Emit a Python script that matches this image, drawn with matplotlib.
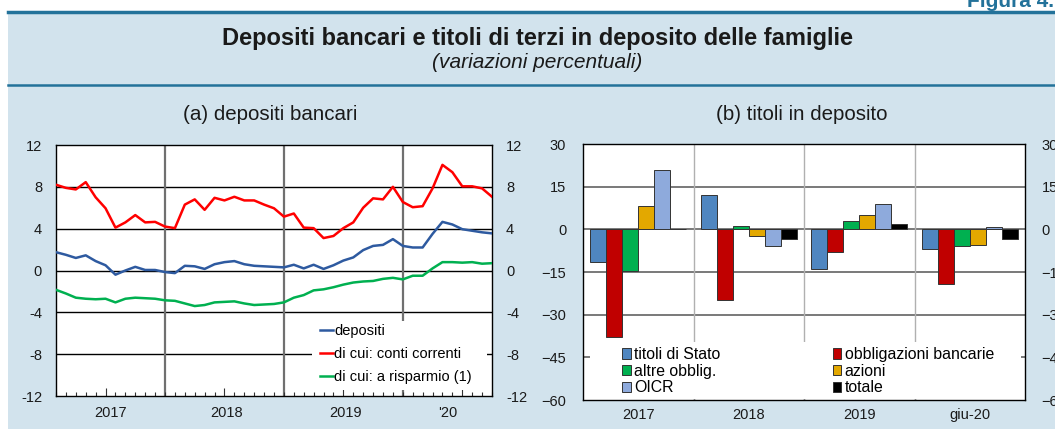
import numpy as np
import matplotlib.pyplot as plt
from matplotlib.patches import Rectangle
from matplotlib.lines import Line2D

plt.rcParams['font.family'] = ['Liberation Sans', 'DejaVu Sans']

# (a) depositi bancari - monthly, Jan 2017 .. Sep 2020
depositi = [1.75, 1.5, 1.2, 1.45, 0.9, 0.5, -0.4, 0.0, 0.35, 0.05, 0.05, -0.15,
            -0.25, 0.45, 0.4, 0.15, 0.6, 0.8, 0.9, 0.6, 0.45, 0.4, 0.35, 0.3,
            0.55, 0.2, 0.55, 0.15, 0.5, 0.95, 1.25, 1.95, 2.35, 2.45, 3.0, 2.35,
            2.2, 2.2, 3.5, 4.65, 4.4, 3.95, 3.8, 3.65, 3.55]
conti_correnti = [8.2, 7.9, 7.75, 8.45, 7.0, 5.95, 4.1, 4.6, 5.3, 4.6, 4.65, 4.2,
                  4.05, 6.3, 6.8, 5.8, 6.95, 6.7, 7.05, 6.7, 6.7, 6.3, 5.95, 5.15,
                  5.45, 4.1, 4.05, 3.1, 3.3, 4.05, 4.6, 6.0, 6.9, 6.8, 8.0, 6.55,
                  6.05, 6.15, 7.85, 10.1, 9.4, 8.05, 8.05, 7.85, 7.05]
risparmio = [-1.85, -2.2, -2.6, -2.7, -2.75, -2.7, -3.05, -2.7, -2.6, -2.65, -2.7, -2.85,
             -2.9, -3.15, -3.4, -3.3, -3.05, -3.0, -2.95, -3.15, -3.3, -3.25, -3.2, -3.05,
             -2.6, -2.35, -1.9, -1.8, -1.6, -1.35, -1.15, -1.05, -1.0, -0.8, -0.7, -0.85,
             -0.5, -0.5, 0.2, 0.8, 0.8, 0.75, 0.8, 0.65, 0.7]
year_labels = ['2017', '2018', '2019', "'20"]
year_label_pos = [5.5, 17.2, 29.2, 39.5]
year_lines = [11, 23, 35]
mid_ticks = [5, 17, 29, 41]

# (b) titoli in deposito
periodi = ['2017', '2018', '2019', 'giu-20']
titoli_stato = [-11.5, 12.1, -13.8, -6.8]
obbl_bancarie = [-38.0, -25.0, -7.9, -19.3]
altre_obblig = [-14.8, 1.15, 2.8, -5.9]
azioni = [8.3, -2.2, 4.9, -5.6]
oicr = [20.9, -5.8, 9.0, 0.8]
totale = [0.15, -3.4, 1.95, -3.4]

BG = '#d2e3ed'
TEAL = '#23729a'
TXT = '#1a1a1a'

fig = plt.figure(figsize=(10.55, 4.29), dpi=100)
fig.patch.set_facecolor('white')
W, H = 1055, 429

def fx(px):
    return px / W

def fy(py):
    return 1 - py / H

# panel background and rules
fig.patches.append(Rectangle((fx(8), 0), 1, fy(12), transform=fig.transFigure,
                             facecolor=BG, edgecolor='none', zorder=-10))
fig.lines.append(Line2D([fx(8), 1], [fy(12), fy(12)], transform=fig.transFigure,
                        color=TEAL, lw=2.5, zorder=-5))
fig.lines.append(Line2D([fx(8), 1], [fy(84.5), fy(84.5)], transform=fig.transFigure,
                        color=TEAL, lw=1.8, zorder=-5))
fig.text(fx(967), fy(7), 'Figura 4.', color=TEAL, fontsize=15, fontweight='bold',
         ha='left', va='baseline')

fig.text(fx(538), fy(38), 'Depositi bancari e titoli di terzi in deposito delle famiglie',
         ha='center', va='center', fontsize=17, fontweight='bold', color=TXT)
fig.text(fx(537), fy(62), '(variazioni percentuali)', ha='center', va='center',
         fontsize=15, fontstyle='italic', color=TXT)
fig.text(fx(270), fy(115), '(a) depositi bancari', ha='center', va='center',
         fontsize=14.8, color=TXT)
fig.text(fx(802), fy(115), '(b) titoli in deposito', ha='center', va='center',
         fontsize=14.8, color=TXT)

# ---------------- (a) ----------------
ax1 = fig.add_axes([fx(56), fy(396), fx(492 - 56), (396 - 145) / H])
ax1.set_facecolor('white')
x = np.arange(len(depositi))
ax1.plot(x, depositi, color='#2e5aa0', lw=1.8, label='depositi', zorder=3)
ax1.plot(x, conti_correnti, color='#ff0000', lw=1.8, label='di cui: conti correnti', zorder=3)
ax1.plot(x, risparmio, color='#00b050', lw=1.8, label='di cui: a risparmio (1)', zorder=3)
ax1.set_xlim(0, len(depositi) - 1)
ax1.set_ylim(-12, 12)
ax1.set_yticks([-12, -8, -4, 0, 4, 8, 12])
ax1.set_yticklabels(['-12', '-8', '-4', '0', '4', '8', '12'])
for v in [-8, -4, 0, 4, 8]:
    ax1.axhline(v, color='black', lw=1.0, zorder=1)
for v in year_lines:
    ax1.axvline(v, color='#707070', lw=1.6, zorder=1)
ax1.set_xticks(x, minor=True)
ax1.set_xticks(mid_ticks)
ax1.set_xticklabels([])
ax1.tick_params(axis='x', which='minor', direction='in', length=3, width=0.8, color='#333333')
ax1.tick_params(axis='x', which='major', direction='in', length=6, width=0.8, color='#333333')
ax1.tick_params(axis='y', length=0, labelsize=10.5, labelright=True, pad=10, colors=TXT)
for lab, p in zip(year_labels, year_label_pos):
    ax1.text(p, -13.0, lab, ha='center', va='top', fontsize=10.5, color=TXT)
for s in ax1.spines.values():
    s.set_color('black')
    s.set_linewidth(1.0)
# white area behind the legend, covering the grid
ax1.add_patch(Rectangle((0.587, 0.024), 0.402, 0.276, transform=ax1.transAxes,
                        facecolor='white', edgecolor='none', zorder=2))
leg1 = ax1.legend(loc='upper left', bbox_to_anchor=(0.598, 0.30), fontsize=10.5,
                  handlelength=0.9, handletextpad=0.1, labelspacing=0.62,
                  borderpad=0.2, borderaxespad=0, frameon=False)
leg1.set_zorder(5)

# ---------------- (b) ----------------
ax2 = fig.add_axes([fx(583), fy(400), fx(1025 - 583), (400 - 144) / H])
ax2.set_facecolor('white')
series = [(titoli_stato, '#4f86c0', 'titoli di Stato'),
          (obbl_bancarie, '#c00000', 'obbligazioni bancarie'),
          (altre_obblig, '#00b050', 'altre obblig.'),
          (azioni, '#e3a800', 'azioni'),
          (oicr, '#8eaadc', 'OICR'),
          (totale, '#000000', 'totale')]
g = np.arange(len(periodi))
bw = 0.145
for i, (vals, col, lab) in enumerate(series):
    ax2.bar(g + (i - 2.5) * bw, vals, width=bw, color=col, edgecolor='#333333',
            linewidth=0.7, label=lab, zorder=3)
ax2.set_xlim(-0.5, len(periodi) - 0.5)
ax2.set_ylim(-60, 30)
ax2.set_yticks([-60, -45, -30, -15, 0, 15, 30])
for v in [-45, -30, -15, 0, 15]:
    ax2.axhline(v, color='#555555', lw=1.1, zorder=1)
for v in [0.5, 1.5, 2.5]:
    ax2.axvline(v, color='#b0b0b0', lw=1.0, zorder=1)
ax2.set_xticks([0.5, 1.5, 2.5], minor=True)
ax2.set_xticks(g)
ax2.set_xticklabels(periodi)
ax2.tick_params(axis='x', which='minor', direction='in', length=5, width=1, color='#999999')
ax2.tick_params(axis='x', which='major', length=0, labelsize=10.5, pad=6, colors=TXT)
ax2.tick_params(axis='y', length=0, labelsize=10.5, labelright=True, pad=12, colors=TXT)
for s in ax2.spines.values():
    s.set_color('black')
    s.set_linewidth(1.0)
ax2.add_patch(Rectangle((0.016, 0.004), 0.974, 0.223, transform=ax2.transAxes,
                        facecolor='white', edgecolor='none', zorder=2))
h, l = ax2.get_legend_handles_labels()
order = [0, 2, 4, 1, 3, 5]
leg2 = ax2.legend([h[k] for k in order], [l[k] for k in order], ncol=2,
                  loc='lower left', bbox_to_anchor=(0.078, 0.0),
                  fontsize=11.4, handlelength=0.55, handleheight=0.6, handletextpad=0.2,
                  labelspacing=0.1, columnspacing=7.1, borderpad=0.2, borderaxespad=0.1,
                  frameon=False)
leg2.set_zorder(5)

fig.savefig('out.png', dpi=100)
